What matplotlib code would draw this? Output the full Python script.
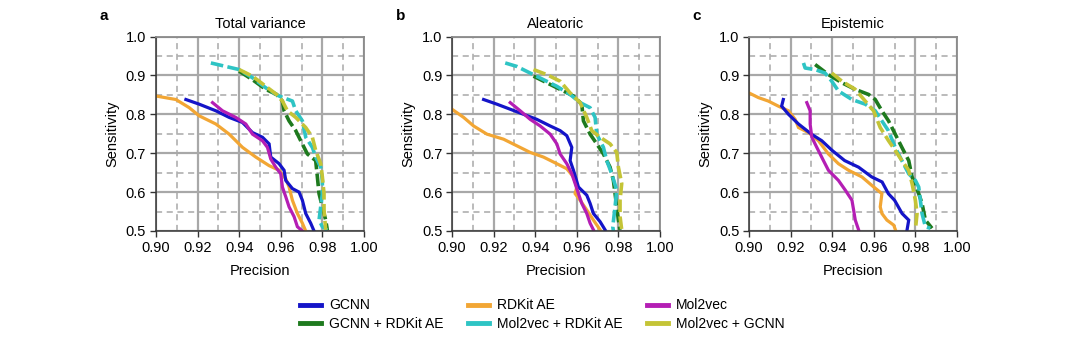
import matplotlib
matplotlib.use("Agg")
import matplotlib.pyplot as plt
from matplotlib.ticker import MultipleLocator
from matplotlib.lines import Line2D

plt.rcParams['font.family'] = ['Liberation Sans', 'DejaVu Sans']

panel_letters = ["a", "b", "c"]
panel_titles = ["Total variance", "Aleatoric", "Epistemic"]
series_names = ["GCNN", "GCNN + RDKit AE", "RDKit AE", "Mol2vec + RDKit AE", "Mol2vec", "Mol2vec + GCNN"]
series_colors = ["#1414c8", "#1e7a1e", "#f2a634", "#2ec4c4", "#b41eb4", "#c4c436"]
series_dashed = [False, True, False, True, False, True]

# ---- Panel a: Total variance ----
a_gcnn_p = [0.9144, 0.9208, 0.9288, 0.9352, 0.9416, 0.9464, 0.9512, 0.9544, 0.9552, 0.9592, 0.9616, 0.9624, 0.9656, 0.9688, 0.9704, 0.9720, 0.9744, 0.9760]
a_gcnn_s = [0.838, 0.826, 0.809, 0.792, 0.779, 0.753, 0.741, 0.724, 0.690, 0.673, 0.656, 0.630, 0.609, 0.600, 0.579, 0.545, 0.520, 0.500]
a_rdkit_p = [0.9000, 0.9096, 0.9160, 0.9208, 0.9288, 0.9352, 0.9416, 0.9480, 0.9544, 0.9592, 0.9624, 0.9640, 0.9656, 0.9680, 0.9704, 0.9720]
a_rdkit_s = [0.847, 0.838, 0.817, 0.796, 0.775, 0.749, 0.715, 0.690, 0.668, 0.656, 0.634, 0.613, 0.579, 0.545, 0.520, 0.500]
a_mol_p = [0.9272, 0.9320, 0.9384, 0.9432, 0.9464, 0.9512, 0.9536, 0.9552, 0.9576, 0.9600, 0.9608, 0.9624, 0.9640, 0.9664, 0.9680, 0.9704]
a_mol_s = [0.830, 0.809, 0.792, 0.775, 0.749, 0.732, 0.715, 0.685, 0.664, 0.647, 0.613, 0.588, 0.562, 0.537, 0.511, 0.500]
a_molrd_p = [0.9264, 0.9336, 0.9400, 0.9464, 0.9528, 0.9592, 0.9656, 0.9672, 0.9704, 0.9720, 0.9752, 0.9768, 0.9792, 0.9800, 0.9800, 0.9792, 0.9784, 0.9800, 0.9824]
a_molrd_s = [0.932, 0.923, 0.915, 0.894, 0.868, 0.847, 0.834, 0.809, 0.783, 0.741, 0.715, 0.690, 0.664, 0.630, 0.596, 0.562, 0.528, 0.511, 0.502]
a_molg_p = [0.9400, 0.9464, 0.9528, 0.9580, 0.9608, 0.9632, 0.9672, 0.9720, 0.9752, 0.9768, 0.9792, 0.9800, 0.9808, 0.9808, 0.9816]
a_molg_s = [0.915, 0.898, 0.872, 0.851, 0.834, 0.809, 0.792, 0.766, 0.741, 0.707, 0.673, 0.639, 0.596, 0.554, 0.503]
a_grd_p = [0.9400, 0.9464, 0.9528, 0.9580, 0.9608, 0.9616, 0.9640, 0.9672, 0.9696, 0.9728, 0.9768, 0.9776, 0.9784, 0.9800, 0.9816, 0.9824]
a_grd_s = [0.911, 0.889, 0.864, 0.851, 0.834, 0.809, 0.783, 0.758, 0.732, 0.698, 0.681, 0.639, 0.596, 0.562, 0.528, 0.502]

# ---- Panel b: Aleatoric ----
b_gcnn_p = [0.9152, 0.9216, 0.9280, 0.9344, 0.9408, 0.9472, 0.9520, 0.9552, 0.9576, 0.9568, 0.9584, 0.9608, 0.9648, 0.9664, 0.9680, 0.9712, 0.9736]
b_gcnn_s = [0.838, 0.826, 0.813, 0.800, 0.787, 0.770, 0.758, 0.745, 0.715, 0.681, 0.656, 0.613, 0.592, 0.571, 0.545, 0.524, 0.503]
b_rdkit_p = [0.9000, 0.9056, 0.9104, 0.9168, 0.9248, 0.9312, 0.9376, 0.9440, 0.9504, 0.9552, 0.9584, 0.9600, 0.9592, 0.9616, 0.9648, 0.9680, 0.9712]
b_rdkit_s = [0.813, 0.792, 0.770, 0.749, 0.736, 0.719, 0.702, 0.690, 0.673, 0.660, 0.639, 0.613, 0.596, 0.579, 0.554, 0.528, 0.503]
b_mol_p = [0.9280, 0.9328, 0.9376, 0.9424, 0.9472, 0.9504, 0.9520, 0.9552, 0.9576, 0.9592, 0.9608, 0.9624, 0.9648, 0.9664, 0.9680]
b_mol_s = [0.830, 0.809, 0.787, 0.770, 0.749, 0.724, 0.698, 0.673, 0.647, 0.622, 0.596, 0.571, 0.545, 0.520, 0.503]
b_molrd_p = [0.9256, 0.9312, 0.9376, 0.9440, 0.9504, 0.9568, 0.9616, 0.9664, 0.9688, 0.9696, 0.9728, 0.9744, 0.9768, 0.9792, 0.9784, 0.9773, 0.9776]
b_molrd_s = [0.932, 0.923, 0.906, 0.889, 0.872, 0.851, 0.830, 0.817, 0.792, 0.749, 0.715, 0.681, 0.647, 0.605, 0.562, 0.511, 0.500]
b_molg_p = [0.9392, 0.9456, 0.9520, 0.9568, 0.9616, 0.9648, 0.9672, 0.9712, 0.9760, 0.9792, 0.9800, 0.9816, 0.9808, 0.9808, 0.9816]
b_molg_s = [0.915, 0.902, 0.885, 0.855, 0.830, 0.792, 0.758, 0.741, 0.724, 0.702, 0.664, 0.622, 0.579, 0.537, 0.503]
b_grd_p = [0.9392, 0.9456, 0.9520, 0.9584, 0.9624, 0.9632, 0.9664, 0.9696, 0.9728, 0.9760, 0.9776, 0.9784, 0.9792, 0.9800, 0.9808]
b_grd_s = [0.898, 0.881, 0.864, 0.847, 0.826, 0.783, 0.749, 0.724, 0.698, 0.664, 0.630, 0.596, 0.562, 0.528, 0.503]

# ---- Panel c: Epistemic ----
c_gcnn_p = [0.9165, 0.9157, 0.9190, 0.9238, 0.9300, 0.9350, 0.9400, 0.9460, 0.9527, 0.9590, 0.9640, 0.9670, 0.9700, 0.9736, 0.9768, 0.9760]
c_gcnn_s = [0.838, 0.821, 0.800, 0.775, 0.749, 0.732, 0.707, 0.681, 0.664, 0.639, 0.626, 0.596, 0.579, 0.545, 0.528, 0.503]
c_rdkit_p = [0.9000, 0.9045, 0.9093, 0.9141, 0.9190, 0.9222, 0.9238, 0.9286, 0.9334, 0.9382, 0.9430, 0.9479, 0.9543, 0.9591, 0.9639, 0.9631, 0.9639, 0.9663, 0.9696, 0.9704]
c_rdkit_s = [0.855, 0.843, 0.834, 0.821, 0.809, 0.787, 0.766, 0.753, 0.732, 0.698, 0.673, 0.656, 0.639, 0.617, 0.596, 0.562, 0.545, 0.528, 0.515, 0.503]
c_mol_p = [0.9278, 0.9294, 0.9294, 0.9302, 0.9326, 0.9358, 0.9382, 0.9430, 0.9463, 0.9495, 0.9503, 0.9511, 0.9527]
c_mol_s = [0.830, 0.809, 0.775, 0.741, 0.715, 0.681, 0.656, 0.630, 0.605, 0.579, 0.554, 0.528, 0.503]
c_molrd_p = [0.9262, 0.9270, 0.9318, 0.9366, 0.9398, 0.9430, 0.9495, 0.9559, 0.9607, 0.9639, 0.9670, 0.9703, 0.9735, 0.9768, 0.9800, 0.9816, 0.9824, 0.9832, 0.9848, 0.9872]
c_molrd_s = [0.932, 0.919, 0.915, 0.906, 0.885, 0.860, 0.838, 0.826, 0.809, 0.783, 0.758, 0.715, 0.681, 0.647, 0.630, 0.613, 0.579, 0.545, 0.511, 0.507]
c_molg_p = [0.9398, 0.9447, 0.9511, 0.9559, 0.9599, 0.9631, 0.9671, 0.9703, 0.9735, 0.9768, 0.9784, 0.9800, 0.9808, 0.9800]
c_molg_s = [0.906, 0.885, 0.864, 0.834, 0.809, 0.766, 0.732, 0.707, 0.681, 0.656, 0.622, 0.579, 0.545, 0.503]
c_grd_p = [0.9318, 0.9382, 0.9447, 0.9511, 0.9575, 0.9607, 0.9639, 0.9671, 0.9703, 0.9735, 0.9768, 0.9784, 0.9816, 0.9832, 0.9848, 0.9880]
c_grd_s = [0.928, 0.902, 0.881, 0.864, 0.851, 0.838, 0.809, 0.783, 0.749, 0.715, 0.681, 0.639, 0.596, 0.571, 0.528, 0.507]

panels = [
    [(a_gcnn_p, a_gcnn_s), (a_grd_p, a_grd_s), (a_rdkit_p, a_rdkit_s), (a_molrd_p, a_molrd_s), (a_mol_p, a_mol_s), (a_molg_p, a_molg_s)],
    [(b_gcnn_p, b_gcnn_s), (b_grd_p, b_grd_s), (b_rdkit_p, b_rdkit_s), (b_molrd_p, b_molrd_s), (b_mol_p, b_mol_s), (b_molg_p, b_molg_s)],
    [(c_gcnn_p, c_gcnn_s), (c_grd_p, c_grd_s), (c_rdkit_p, c_rdkit_s), (c_molrd_p, c_molrd_s), (c_mol_p, c_mol_s), (c_molg_p, c_molg_s)],
]

fig = plt.figure(figsize=(10.8, 3.46), dpi=100)
lefts = [0.1444, 0.4185, 0.6935]
width = 0.1926
bottom = 0.3324
height = 0.5621

# draw order: solid first then dashed on top
draw_order = [2, 0, 4, 1, 3, 5]
for pi, (left, letter, title) in enumerate(zip(lefts, panel_letters, panel_titles)):
    ax = fig.add_axes([left, bottom, width, height])
    ax.set_xlim(0.90, 1.00)
    ax.set_ylim(0.5, 1.0)
    ax.xaxis.set_major_locator(MultipleLocator(0.02))
    ax.xaxis.set_minor_locator(MultipleLocator(0.01))
    ax.yaxis.set_major_locator(MultipleLocator(0.1))
    ax.yaxis.set_minor_locator(MultipleLocator(0.05))
    ax.grid(which='major', color='#a8a8a8', linestyle='-', linewidth=1.6)
    ax.grid(which='minor', color='#a8a8a8', linestyle=(0, (4, 3)), linewidth=1.1)
    ax.set_axisbelow(True)
    ax.tick_params(which='minor', length=0)
    ax.tick_params(which='major', length=4, width=1, color='#333333', labelsize=10.5, pad=3)
    ax.xaxis.set_major_formatter(plt.FuncFormatter(lambda v, _: f"{v:.2f}"))
    ax.yaxis.set_major_formatter(plt.FuncFormatter(lambda v, _: f"{v:.1f}"))
    for side in ['left', 'bottom']:
        ax.spines[side].set_color('#333333')
        ax.spines[side].set_linewidth(1.1)
    for side in ['top', 'right']:
        ax.spines[side].set_color('#8a8a8a')
        ax.spines[side].set_linewidth(1.3)
    for si in draw_order:
        p, s = panels[pi][si]
        if series_dashed[si]:
            ax.plot(p, s, color=series_colors[si], linewidth=2.6,
                    linestyle=(0, (3.5, 1.2)), dash_capstyle='butt')
        else:
            ax.plot(p, s, color=series_colors[si], linewidth=2.3,
                    solid_joinstyle='miter')
    ax.set_xlabel("Precision", fontsize=10.5, labelpad=7)
    ax.set_ylabel("Sensitivity", fontsize=10.5, labelpad=5)
    ax.set_title(title, fontsize=10.5, pad=6)
    ax.text(-0.27, 1.07, letter, transform=ax.transAxes, fontsize=11,
            fontweight='bold', ha='left', va='bottom')

leg_handles = [Line2D([0], [0], color=series_colors[i], linewidth=3.5) for i in range(6)]
fig.legend(leg_handles, series_names, ncol=3, loc='center',
           bbox_to_anchor=(0.502, 0.09), frameon=False, fontsize=10,
           handlelength=1.5, columnspacing=1.75, handletextpad=0.6,
           labelspacing=0.35)

fig.savefig("out.png", dpi=100, facecolor='white')
